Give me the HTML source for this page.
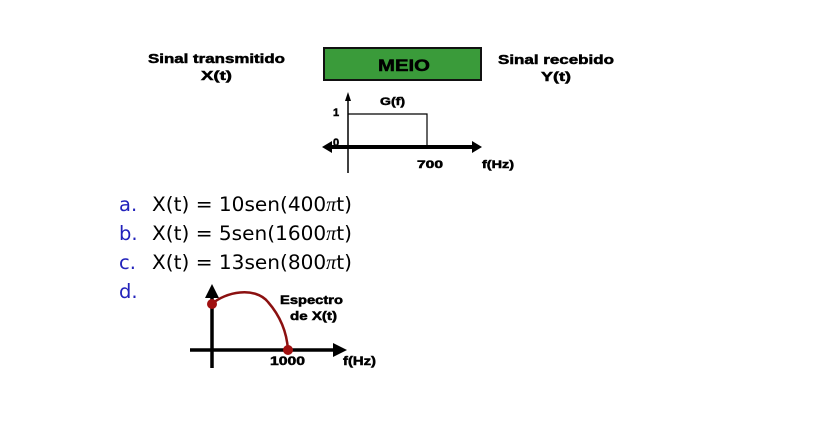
<!DOCTYPE html>
<html><head><meta charset="utf-8"><style>
html,body{margin:0;padding:0;background:#fff;}
svg{display:block;}
.b{font-family:"Liberation Sans",Arial,sans-serif;font-weight:bold;fill:#000;stroke:#000;stroke-width:0.5;}
.l{font-family:"DejaVu Sans","Liberation Sans",sans-serif;font-size:19.5px;}
</style></head><body>
<svg width="835" height="441" viewBox="0 0 835 441" xmlns="http://www.w3.org/2000/svg">
<text class="b" x="148" y="63" font-size="13" textLength="137" lengthAdjust="spacingAndGlyphs">Sinal transmitido</text>
<text class="b" x="201" y="80" font-size="13" textLength="31" lengthAdjust="spacingAndGlyphs">X(t)</text>
<rect x="324" y="48" width="157" height="32" fill="#3a9b3a" stroke="#111" stroke-width="2"/>
<text class="b" x="378" y="71" font-size="17" textLength="52" lengthAdjust="spacingAndGlyphs">MEIO</text>
<text class="b" x="498" y="64" font-size="13" textLength="116" lengthAdjust="spacingAndGlyphs">Sinal recebido</text>
<text class="b" x="541" y="81" font-size="13" textLength="30" lengthAdjust="spacingAndGlyphs">Y(t)</text>
<!-- G(f) graph -->
<line x1="348" y1="100" x2="348" y2="173" stroke="#000" stroke-width="1.5"/>
<polygon points="348,92 345,101 351,101" fill="#000"/>
<line x1="330" y1="147" x2="474" y2="147" stroke="#000" stroke-width="4"/>
<polygon points="322,147 332,141 332,153" fill="#000"/>
<polygon points="482,147 472,141 472,153" fill="#000"/>
<polyline points="348,114 427,114 427,147" fill="none" stroke="#000" stroke-width="1.2"/>
<text class="b" x="333" y="116" font-size="11">1</text>
<text class="b" x="333" y="146" font-size="11">0</text>
<text class="b" x="380" y="105" font-size="11" textLength="25" lengthAdjust="spacingAndGlyphs">G(f)</text>
<text class="b" x="417" y="168" font-size="11" textLength="26" lengthAdjust="spacingAndGlyphs">700</text>
<text class="b" x="482" y="168" font-size="11" textLength="32" lengthAdjust="spacingAndGlyphs">f(Hz)</text>
<!-- list -->
<g class="l">
<text x="119" y="211" fill="#2222bb">a.</text><text x="152" y="211" textLength="200" lengthAdjust="spacingAndGlyphs">X(t) = 10sen(400<tspan font-family="Liberation Serif,serif" font-style="italic">π</tspan>t)</text>
<text x="119" y="240" fill="#2222bb">b.</text><text x="152" y="240" textLength="200" lengthAdjust="spacingAndGlyphs">X(t) = 5sen(1600<tspan font-family="Liberation Serif,serif" font-style="italic">π</tspan>t)</text>
<text x="119" y="269" fill="#2222bb">c.</text><text x="152" y="269" textLength="200" lengthAdjust="spacingAndGlyphs">X(t) = 13sen(800<tspan font-family="Liberation Serif,serif" font-style="italic">π</tspan>t)</text>
<text x="119" y="298" fill="#2222bb">d.</text>
</g>
<!-- spectrum -->
<line x1="212" y1="296" x2="212" y2="368" stroke="#000" stroke-width="3.5"/>
<polygon points="212,284 205,298 219,298" fill="#000"/>
<line x1="190" y1="350" x2="336" y2="350" stroke="#000" stroke-width="3.5"/>
<polygon points="347,350 333,343 333,357" fill="#000"/>
<path d="M212,304 C225,292 255,286 268,302 C282,318 287,335 288,350" fill="none" stroke="#8b1010" stroke-width="2.5"/>
<circle cx="212" cy="304" r="5" fill="#a01010"/>
<circle cx="288" cy="350" r="5" fill="#a01010"/>
<text class="b" x="280" y="304" font-size="12" textLength="63" lengthAdjust="spacingAndGlyphs">Espectro</text>
<text class="b" x="290" y="320" font-size="12" textLength="47" lengthAdjust="spacingAndGlyphs">de X(t)</text>
<text class="b" x="270" y="365" font-size="12" textLength="35" lengthAdjust="spacingAndGlyphs">1000</text>
<text class="b" x="343" y="365" font-size="12" textLength="33" lengthAdjust="spacingAndGlyphs">f(Hz)</text>
</svg>
</body></html>
